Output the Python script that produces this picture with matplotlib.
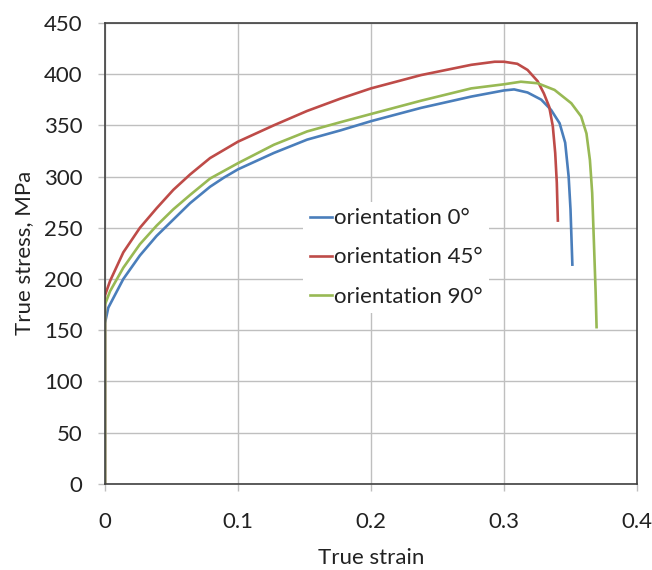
import matplotlib
matplotlib.use("Agg")
import matplotlib.pyplot as plt

plt.rcParams['font.family'] = ['Lato', 'DejaVu Sans']

# strain / stress
strain_0 = [0, 0, 0.0025, 0.0138, 0.0263, 0.0388, 0.0514, 0.064, 0.079, 0.0895,
            0.1, 0.127, 0.152, 0.177, 0.2, 0.2377, 0.2754, 0.3, 0.3076, 0.3177,
            0.328, 0.3354, 0.3418, 0.346, 0.3486, 0.350, 0.3514]
stress_0 = [0, 157, 172, 200, 223, 242, 258, 274, 290, 299,
            307, 323, 336, 345, 354, 367, 378, 384, 385, 382,
            375, 365, 352, 333, 300, 268, 214]

strain_45 = [0, 0, 0.0038, 0.0138, 0.0263, 0.0388, 0.0514, 0.064, 0.079, 0.1,
             0.127, 0.152, 0.177, 0.2, 0.2377, 0.2754, 0.293, 0.300, 0.310,
             0.3177, 0.3253, 0.330, 0.334, 0.3367, 0.3385, 0.3397, 0.3405]
stress_45 = [0, 184, 198, 226, 250, 269, 287, 302, 318, 334,
             350, 364, 376, 386, 399, 409, 412, 412, 410,
             404, 393, 381, 368, 349, 323, 294, 257]

strain_90 = [0, 0, 0.0038, 0.0138, 0.0263, 0.0388, 0.0514, 0.064, 0.079, 0.1,
             0.127, 0.152, 0.177, 0.2, 0.2377, 0.2754, 0.3, 0.3127, 0.3253,
             0.338, 0.3506, 0.358, 0.362, 0.3646, 0.3663, 0.3676, 0.3689, 0.3696]
stress_90 = [0, 175, 188, 211, 234, 252, 268, 282, 298, 313,
             331, 344, 353, 361, 374, 386, 390, 392.5, 391,
             384.5, 371.5, 358.6, 342, 316, 284, 236, 187, 153]

labels = ['orientation 0°', 'orientation 45°', 'orientation 90°']
colors = ['#4A7EBB', '#BE4B48', '#98B954']

fig = plt.figure(figsize=(6.52, 5.70), dpi=100)
ax = fig.add_axes([0.161, 0.151, 0.816, 0.809])

for x, y, lab, c in zip([strain_0, strain_45, strain_90],
                        [stress_0, stress_45, stress_90], labels, colors):
    ax.plot(x, y, color=c, lw=1.9, label=lab, solid_joinstyle='round')

ax.set_xlim(0, 0.4)
ax.set_ylim(0, 450)
ax.set_xticks([0, 0.1, 0.2, 0.3, 0.4])
ax.set_xticklabels(['0', '0.1', '0.2', '0.3', '0.4'])
ax.set_yticks(range(0, 451, 50))
ax.grid(True, color='#BFBFBF', lw=1.0)
ax.set_axisbelow(True)
for s in ax.spines.values():
    s.set_color('#404040')
    s.set_linewidth(1.2)
ax.tick_params(direction='out', length=5, width=1, color='#BFBFBF',
               labelsize=16, labelcolor='#222222')
ax.tick_params(axis='x', pad=15)
ax.tick_params(axis='y', pad=11)

ax.set_xlabel('True strain', fontsize=16, color='#222222', labelpad=12)
ax.set_ylabel('True stress, MPa', fontsize=16, color='#222222', labelpad=7)

leg = ax.legend(loc='upper left', bbox_to_anchor=(0.372, 0.612), fontsize=16,
                frameon=True, fancybox=False, framealpha=1, edgecolor='none',
                handlelength=1.0, handletextpad=0.1, labelspacing=0.86,
                borderpad=0.3, borderaxespad=0)
for t in leg.get_texts():
    t.set_color('#222222')

fig.savefig('out.png', dpi=100)
